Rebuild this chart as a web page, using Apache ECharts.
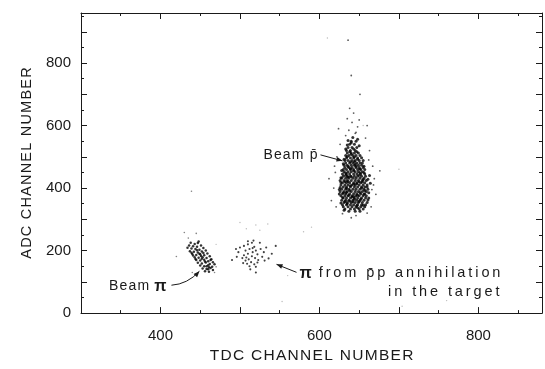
<!DOCTYPE html>
<html>
<head>
<meta charset="utf-8">
<script src="https://cdn.jsdelivr.net/npm/echarts@6/dist/echarts.min.js"></script>
<style>html,body{margin:0;padding:0;background:#fff}#c{width:545px;height:369px}</style>
</head>
<body>
<div id="c"></div>
<script>
// ---- data (TDC channel, ADC channel) ----
const xTickLabels = [400, 600, 800];
const yTickLabels = [0, 200, 400, 600, 800];

const beamPbar = [
[637,326],[645,326],[651,326],
[632,333],[639,333],[644,333],[650,333],[655,333],
[630,340],[636,340],[641,340],[646,340],[652,340],[657,340],
[629,347],[634,347],[639,347],[643,347],[648,347],[653,347],[658,347],
[631,354],[635,354],[640,354],[645,354],[649,354],[654,354],[660,354],
[628,361],[633,361],[637,361],[642,361],[647,361],[651,361],[656,361],
[630,368],[634,368],[639,368],[644,368],[648,368],[653,368],[658,368],[662,368],
[627,375],[632,375],[636,375],[641,375],[646,375],[650,375],[655,375],[659,375],
[629,382],[633,382],[638,382],[643,382],[647,382],[652,382],[657,382],
[626,389],[631,389],[635,389],[640,389],[645,389],[649,389],[654,389],[659,389],
[628,396],[633,396],[637,396],[642,396],[646,396],[651,396],[656,396],[661,396],
[630,403],[634,403],[639,403],[644,403],[648,403],[653,403],[657,403],
[627,410],[632,410],[636,410],[641,410],[645,410],[650,410],[655,410],[660,410],
[629,417],[634,417],[638,417],[643,417],[647,417],[652,417],[657,417],
[626,424],[631,424],[635,424],[640,424],[645,424],[649,424],[654,424],[659,424],
[628,431],[633,431],[637,431],[642,431],[646,431],[651,431],[656,431],
[630,438],[635,438],[639,438],[644,438],[648,438],[653,438],[658,438],
[629,445],[634,445],[638,445],[643,445],[647,445],[652,445],[657,445],
[631,452],[636,452],[640,452],[645,452],[649,452],[654,452],
[630,459],[634,459],[639,459],[643,459],[648,459],[652,459],[657,459],
[632,466],[637,466],[641,466],[646,466],[650,466],[655,466],
[631,473],[635,473],[640,473],[644,473],[649,473],[653,473],
[633,480],[638,480],[642,480],[647,480],[651,480],
[632,488],[636,488],[641,488],[645,488],[650,488],[655,488],
[634,496],[639,496],[643,496],[648,496],
[633,504],[637,504],[642,504],[646,504],[651,504],
[635,512],[640,512],[644,512],[649,512],
[634,520],[639,520],[645,520],
[636,530],[641,530],[647,530],
[638,540],[644,540],
[640,550],[646,550],
[632,357],[644,364],[638,392],[650,420],[636,435],[653,400],[641,371],[647,344],
[634,399],[655,427],[639,462],[648,377],[643,413],[630,385],[657,392],[636,421],
[651,449],[642,356],[633,441],[646,470],[640,508],[644,484],[637,377],[652,365],[635,350],
[631,329],[648,337],[655,345],[627,352],[638,359],[650,357],[661,362],[629,370],
[643,373],[656,380],[625,381],[634,386],[651,386],[660,403],[626,402],[639,407],
[647,414],[632,420],[654,419],[661,428],[627,433],[640,437],[650,441],[656,450],
[633,448],[628,456],[643,455],[651,461],[636,469],[645,476],[654,480],[630,478],
[639,484],[648,492],[635,500],[644,499],[653,497],[638,516],[647,516],[633,525],
[643,525],[650,535],[640,545],[635,538],[648,556],[642,562],[636,552],[631,492],
[656,470],[627,418],[662,385],[663,440],[625,395],[664,415]
];

const beamPbarHalo = [
[633,568],[645,575],[637,585],[648,596],[641,610],[635,622],[650,618],[643,640],
[638,655],[651,700],[640,760],[636,873],[646,578],
[620,450],[618,400],[667,470],[669,430],[671,380],[622,500],[615,360],[663,520],
[668,410],[676,455],[612,430],[624,590],[660,600],[658,560],[626,540],[665,340],
[621,340],[660,320],[640,305],[646,312],[629,318],[662,490],[619,470],[666,395]
];

const beamPi = [
[438,225],[443,221],[447,224],[436,216],[441,214],[446,212],[451,216],[439,207],
[444,205],[449,203],[454,208],[437,198],[442,196],[447,194],[452,197],[457,200],
[440,189],[445,186],[450,188],[455,185],[459,191],[443,179],[448,177],[453,179],
[458,176],[462,182],[445,170],[450,168],[455,171],[460,166],[464,172],[447,161],
[452,159],[457,162],[462,157],[466,163],[450,152],[455,150],[460,153],[465,148],
[453,143],[458,141],[463,144],[456,134],[461,132],[466,138],[446,201],[451,183],
[456,165],[449,190],[458,150],[444,173],[463,170],[454,192],[441,184],[460,140],
[434,209],[448,229],[439,193],[468,156],[452,174],[461,147]
];

const beamPiHalo = [
[435,240],[430,258],[445,255],[470,148],[468,130],[420,181],[440,130],[439,390]
];

const annihilationPi = [
[505,215],[510,220],[515,225],[518,212],[512,205],[507,200],[520,200],[516,195],
[510,190],[522,188],[505,185],[515,182],[519,176],[511,172],[507,168],[523,170],
[514,163],[509,158],[518,156],[512,150],[520,148],[503,176],[498,195],[526,205],
[528,180],[500,210],[517,232],[525,225],[530,195],[496,180],[513,140],[522,162],
[508,178],[516,208],[504,160],[531,168],[495,205],[533,210],[510,230],[540,190],
[536,175],[520,130],[545,215],[490,170]
];

const strays = [
[500,290],[520,282],[535,285],[508,270],[525,265],[553,37],[704,22],[580,260],
[470,220],[700,460],[560,120],[610,880],[655,600],[760,40],[590,275]
];

const chart = echarts.init(document.getElementById('c'), null, {renderer: 'canvas'});
const FONT = 'Liberation Sans';
const ink = '#1a1a1a';

// widen letter spacing by inserting a narrow space between characters (keeps combining marks attached)
function spaced(s, sep) {
  const ch = Array.from(s);
  let out = '';
  for (let i = 0; i < ch.length; i++) {
    out += ch[i];
    if (i < ch.length - 1 && ch[i + 1] !== '\u0304') out += sep;
  }
  return out;
}
const THIN = '\u2009', HAIR = '\u200A';

function axisCommon(extra) {
  return Object.assign({
    type: 'value',
    axisLine: {show: true, onZero: false, lineStyle: {color: ink, width: 1}},
    axisTick: {show: true, inside: true, length: 6, lineStyle: {color: ink, width: 1}},
    minorTick: {show: true, splitNumber: 2, length: 3, lineStyle: {color: ink, width: 1}},
    splitLine: {show: false}
  }, extra);
}

const xMin = 300, xMax = 880, yMin = 0, yMax = 960;

chart.setOption({
  animation: false,
  backgroundColor: '#fff',
  grid: {left: 81, right: 2, top: 13, bottom: 49},
  xAxis: [
    axisCommon({min: xMin, max: xMax, interval: 100, position: 'bottom',
      axisLabel: {show: true, margin: 15, fontFamily: FONT, fontSize: 15, color: ink,
        formatter: v => xTickLabels.indexOf(v) >= 0 ? String(v) : ''},
      name: spaced('TDC CHANNEL NUMBER', HAIR), nameLocation: 'middle', nameGap: 34,
      nameTextStyle: {fontFamily: FONT, fontSize: 15.5, color: ink}}),
    axisCommon({min: xMin, max: xMax, interval: 100, position: 'top', axisLabel: {show: false}})
  ],
  yAxis: [
    axisCommon({min: yMin, max: yMax, interval: 100, position: 'left',
      axisLabel: {show: true, margin: 10, fontFamily: FONT, fontSize: 15, color: ink,
        formatter: v => yTickLabels.indexOf(v) >= 0 ? String(v) : ''},
      name: spaced('ADC CHANNEL NUMBER', HAIR), nameLocation: 'middle', nameGap: 47,
      nameTextStyle: {fontFamily: FONT, fontSize: 14.5, color: ink}}),
    axisCommon({min: yMin, max: yMax, interval: 100, position: 'right', axisLabel: {show: false}})
  ],
  series: [
    {type: 'scatter', data: beamPbar, symbolSize: 3, itemStyle: {color: '#000'}, silent: true},
    {type: 'scatter', data: beamPbarHalo, symbolSize: 1.8, itemStyle: {color: '#333'}, silent: true},
    {type: 'scatter', data: beamPi, symbolSize: 2.5, itemStyle: {color: '#000'}, silent: true},
    {type: 'scatter', data: beamPiHalo, symbolSize: 1.6, itemStyle: {color: '#666'}, silent: true},
    {type: 'scatter', data: annihilationPi, symbolSize: 2.1, itemStyle: {color: '#111'}, silent: true},
    {type: 'scatter', data: strays, symbolSize: 1.4, itemStyle: {color: '#aaa'}, silent: true}
  ]
});

// ---- annotations anchored to data points ----
function px(pt) { return chart.convertToPixel({gridIndex: 0}, pt); }
function head(tip, from) {
  const dx = tip[0] - from[0], dy = tip[1] - from[1];
  const L = Math.sqrt(dx*dx + dy*dy) || 1;
  const ux = dx / L, uy = dy / L;
  const len = 6, hw = 2.4;
  const bx = tip[0] - ux*len, by = tip[1] - uy*len;
  return {type: 'polygon', shape: {points: [tip, [bx - uy*hw, by + ux*hw], [bx + uy*hw, by - ux*hw]]},
    style: {fill: ink}};
}
const F = '14px "Liberation Sans"', FB = 'bold 16px "Liberation Sans"';
const txt = (x, y, text, align, sep) => ({type: 'text', x: x, y: y,
  style: {text: spaced(text, sep || THIN), font: F, fill: ink, textAlign: align, textVerticalAlign: 'middle'}});

const g = [];
// Beam p-bar
const t1 = px([629, 487]);
const s1 = [t1[0] - 22, t1[1] - 6];
g.push({type: 'line', shape: {x1: s1[0], y1: s1[1], x2: t1[0], y2: t1[1]}, style: {stroke: ink, lineWidth: 1}});
g.push(head(t1, s1));
g.push(txt(s1[0] - 3, s1[1], 'Beam p\u0304', 'right', HAIR));
// Beam pi
const t2 = px([449, 134]);
const s2 = [t2[0] - 28, t2[1] + 14];
const c2 = [t2[0] - 12, t2[1] + 13];
g.push({type: 'bezierCurve', shape: {x1: s2[0], y1: s2[1], x2: t2[0], y2: t2[1], cpx1: c2[0], cpy1: c2[1]},
  style: {stroke: ink, lineWidth: 1, fill: null}});
g.push(head(t2, c2));
g.push({type: 'text', x: s2[0] - 5, y: s2[1] + 1, style: {
  rich: {a: {font: F, fill: ink}, b: {font: FB, fill: ink}},
  text: '{a|' + spaced('Beam ', HAIR) + '}{b|\u03c0}', textAlign: 'right', textVerticalAlign: 'middle'}});
// annihilation pi
const t3 = px([546, 156]);
const s3 = [t3[0] + 20, t3[1] + 8];
g.push({type: 'line', shape: {x1: s3[0], y1: s3[1], x2: t3[0], y2: t3[1]}, style: {stroke: ink, lineWidth: 1}});
g.push(head(t3, s3));
g.push({type: 'text', x: s3[0] + 3, y: s3[1] + 1, style: {
  rich: {a: {font: '14.5px "Liberation Sans"', fill: ink}, b: {font: FB, fill: ink}},
  text: '{b|\u03c0}{a|' + spaced(' from p\u0304p annihilation', THIN) + '}', textAlign: 'left', textVerticalAlign: 'middle'}});
g.push({type: 'text', x: s3[0] + 203, y: s3[1] + 20, style: {
  text: spaced('in the target', THIN), font: '14.5px "Liberation Sans"', fill: ink,
  textAlign: 'right', textVerticalAlign: 'middle'}});

chart.setOption({graphic: g});
</script>
</body>
</html>
